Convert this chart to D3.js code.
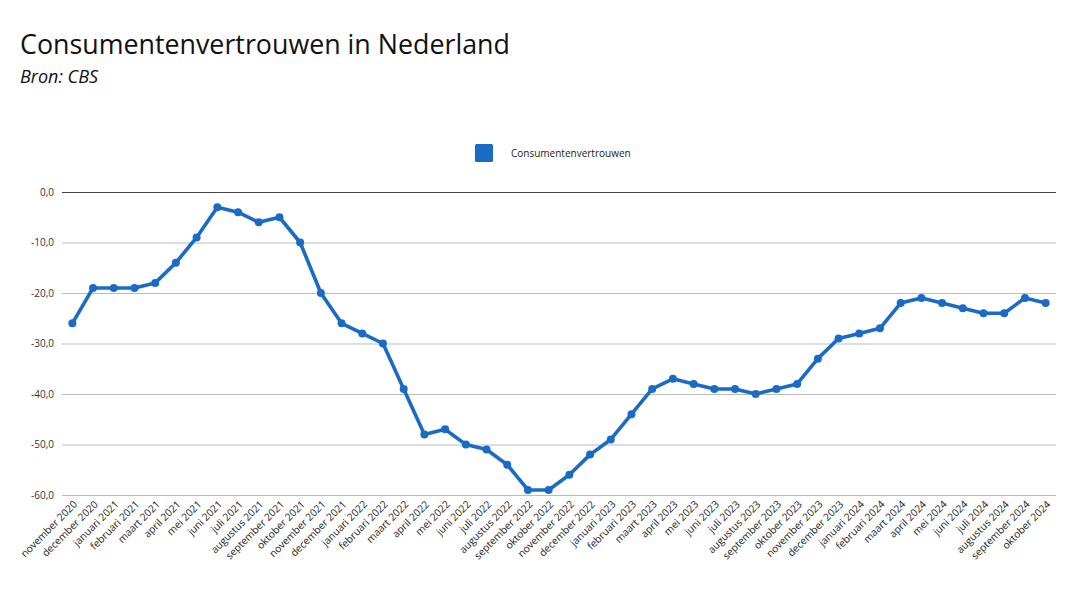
<!DOCTYPE html>
<html><head><meta charset="utf-8">
<script src="https://cdn.jsdelivr.net/npm/d3@7"></script>
<style>body{margin:0;background:#fff;font-family:"Open Sans","Noto Sans",sans-serif;}</style>
</head><body>
<svg id="c" width="1080" height="600"></svg>
<script>
const months = ["november 2020","december 2020","januari 2021","februari 2021","maart 2021","april 2021","mei 2021","juni 2021","juli 2021","augustus 2021","september 2021","oktober 2021","november 2021","december 2021","januari 2022","februari 2022","maart 2022","april 2022","mei 2022","juni 2022","juli 2022","augustus 2022","september 2022","oktober 2022","november 2022","december 2022","januari 2023","februari 2023","maart 2023","april 2023","mei 2023","juni 2023","juli 2023","augustus 2023","september 2023","oktober 2023","november 2023","december 2023","januari 2024","februari 2024","maart 2024","april 2024","mei 2024","juni 2024","juli 2024","augustus 2024","september 2024","oktober 2024"];
const values = [-26,-19,-19,-19,-18,-14,-9,-3,-4,-6,-5,-10,-20,-26,-28,-30,-39,-48,-47,-50,-51,-54,-59,-59,-56,-52,-49,-44,-39,-37,-38,-39,-39,-40,-39,-38,-33,-29,-28,-27,-22,-21,-22,-23,-24,-24,-21,-22];
const yTicks = [0,-10,-20,-30,-40,-50,-60];
const seriesName = "Consumentenvertrouwen";
const title = "Consumentenvertrouwen in Nederland";
const subtitle = "Bron: CBS";

const svg = d3.select("#c");
const color = "#1a6bc6";
const L = 62, R = 1056, T = 192, B = 495;
const x = d3.scalePoint().domain(months).range([L, R]).padding(0.5);
const y = d3.scaleLinear().domain([-60, 0]).range([B, T]);

svg.append("text").attr("x", 20).attr("y", 54).attr("font-size", 26.8).attr("fill", "#111").text(title);
svg.append("text").attr("x", 20).attr("y", 83).attr("font-size", 18).attr("font-style", "italic").attr("fill", "#111").text(subtitle);

// legend
svg.append("rect").attr("x", 475).attr("y", 144).attr("width", 18).attr("height", 18).attr("rx", 1.5).attr("fill", color);
svg.append("text").attr("x", 511).attr("y", 157).attr("font-size", 10).attr("fill", "#222").text(seriesName);

// grid
const yAxis = svg.append("g").attr("transform", `translate(${L},0)`)
  .call(d3.axisLeft(y).tickValues(yTicks).tickSize(-(R - L)).tickFormat(d => d3.format(".1f")(d).replace(".", ",").replace("−", "-")));
yAxis.select(".domain").remove();
yAxis.selectAll(".tick line").attr("stroke", d => d === 0 ? "#444" : "#bbb").attr("stroke-width", 1);
yAxis.selectAll(".tick text").attr("x", -8).attr("font-size", 10).attr("fill", "#333").attr("font-family", "Open Sans");

// x axis labels
const xAxis = svg.append("g").attr("transform", `translate(0,${B})`)
  .call(d3.axisBottom(x).tickSize(0));
xAxis.select(".domain").remove();
xAxis.selectAll(".tick text")
  .attr("font-size", 10.2).attr("fill", "#222").attr("font-family", "Open Sans")
  .attr("text-anchor", "end").attr("dy", 0).attr("y", 0)
  .attr("transform", "translate(5,10) rotate(-45)");

// line
const line = d3.line().x((d, i) => x(months[i])).y(d => y(d));
svg.append("path").datum(values).attr("d", line).attr("fill", "none").attr("stroke", color).attr("stroke-width", 3.6).attr("stroke-linejoin", "round");
svg.append("g").selectAll("circle").data(values).join("circle")
  .attr("cx", (d, i) => x(months[i])).attr("cy", d => y(d)).attr("r", 4).attr("fill", color);
</script>
</body></html>
